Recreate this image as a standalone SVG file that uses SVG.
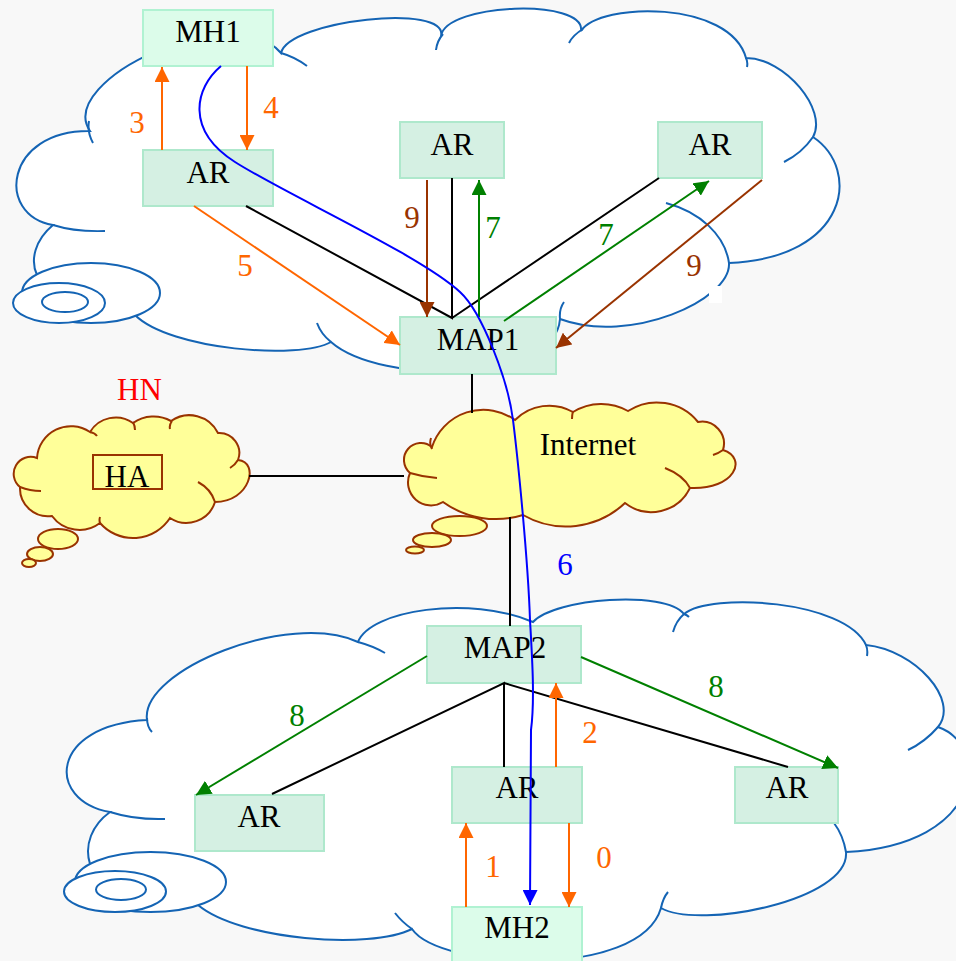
<svg xmlns="http://www.w3.org/2000/svg" width="956" height="961" viewBox="0 0 956 961">
<style>
.cloud{fill:#fff;stroke:#1464b4;stroke-width:2}
.tail{fill:none;stroke:#1464b4;stroke-width:2}
.ycloud{fill:#ffff99;stroke:#993300;stroke-width:2}
.ytail{fill:none;stroke:#993300;stroke-width:2}
.ar rect{fill:#d5f0e3;stroke:#aee8cc;stroke-width:2}
.mh rect{fill:#dcfcea;stroke:#b0f2d2;stroke-width:2}
text{font-family:"Liberation Serif","Times New Roman",serif;font-size:31px;text-anchor:middle;fill:#000}
.ln{fill:none;stroke-width:2}
.k{stroke:#000}.o{stroke:#ff6600}.b{stroke:#993300}.g{stroke:#008000}.u{stroke:#0000ff}
.to{fill:#ff6600}.tb{fill:#993300}.tg{fill:#008000}.tu{fill:#0000ff}
</style>
<defs>
<marker id="ao" markerUnits="userSpaceOnUse" markerWidth="15" markerHeight="15" viewBox="0 0 15 15" refX="15" refY="7.5" orient="auto"><path d="M0,0 L15,7.5 L0,15 z" fill="#ff6600"/></marker>
<marker id="ab" markerUnits="userSpaceOnUse" markerWidth="15" markerHeight="15" viewBox="0 0 15 15" refX="15" refY="7.5" orient="auto"><path d="M0,0 L15,7.5 L0,15 z" fill="#993300"/></marker>
<marker id="ag" markerUnits="userSpaceOnUse" markerWidth="15" markerHeight="15" viewBox="0 0 15 15" refX="15" refY="7.5" orient="auto"><path d="M0,0 L15,7.5 L0,15 z" fill="#008000"/></marker>
<marker id="au" markerUnits="userSpaceOnUse" markerWidth="15" markerHeight="15" viewBox="0 0 15 15" refX="15" refY="7.5" orient="auto"><path d="M0,0 L15,7.5 L0,15 z" fill="#0000ff"/></marker>
</defs>
<rect width="956" height="961" fill="#f8f8f8"/>

<g id="cloud-top">
<path class="cloud" d="M90,131 C55,80 234,-3 281,53 C289,20 449,3 441,36 C446,3 586,-2 581,31 C600,2 730,0 746,58 C785,58 828,110 813,137 C862,170 848,258 729,263 C731,300 630,345 560,319 C555,385 380,385 331,342 C300,360 170,350 135,315 L37,275 C30,260 35,240 53,225 C-5,215 5,130 90,131 Z"/>
<path class="tail" d="M93,143 Q87,132 89,121 M281,53 Q295,57 307,66 M436,50 Q437,41 443,34 M569,43 Q573,35 583,29 M746,58 Q748,62 747,67 M813,137 Q802,153 784,162 M666,203 C700,212 725,235 729,263 M560,319 Q559,309 564,302 M331,342 Q321,334 317,323 M53,225 Q75,232 105,231"/>
<ellipse class="cloud" cx="91" cy="293" rx="69" ry="30"/>
<ellipse class="cloud" cx="59" cy="303" rx="46" ry="20"/>
<ellipse class="cloud" cx="65" cy="302" rx="23" ry="10"/>
<rect x="709" y="286" width="13" height="17" fill="#fff"/>
</g>

<g id="cloud-bottom">
<path class="cloud" d="M147,720 C140,670 290,610 358,642 C370,610 470,595 533,622 C555,598 665,590 684,614 C710,592 845,600 866,645 C915,650 960,700 938,727 C990,745 985,845 846,852 C850,900 700,930 661,908 C640,980 440,970 412,929 C370,950 240,940 198,905 L90,864 C84,845 92,825 110,812 C45,800 50,725 147,720 Z"/>
<path class="tail" d="M358,642 Q373,646 385,653 M152,732 Q147,727 147,718 M684,614 Q687,615 689,617 M673,632 Q676,621 684,614 M866,645 Q868,650 867,656 M938,727 Q925,742 908,750 M846,852 Q843,835 834,823 M661,908 Q663,898 668,892 M412,929 Q402,922 395,913 M110,812 Q135,820 165,819"/>
<ellipse class="cloud" cx="150.5" cy="882" rx="75.5" ry="30"/>
<ellipse class="cloud" cx="115" cy="891.5" rx="51" ry="20.5"/>
<ellipse class="cloud" cx="121" cy="889.5" rx="25" ry="10.5"/>
</g>

<g id="HN">
<path class="ycloud" d="M20,487 A17,17 0 0 1 37,458 A34,34 0 0 1 90,432 A30,30 0 0 1 133,423 A36,36 0 0 1 171,421 A32,32 0 0 1 218,433 A20,20 0 0 1 238,460 C260,462 250,502 215,502 A30,30 0 0 1 170,518 A44,44 0 0 1 100,523 A34,34 0 0 1 52,516 A28,28 0 0 1 20,487 Z"/>
<path class="ytail" d="M20,487 Q30,491 41,491 M90,432 Q95,433 97,436 M133,422 Q135,426 135,430 M172,421 Q169,425 170,429 M238,460 Q235,465 230,468 M198,482 Q211,489 215,502 M100,523 Q99,520 100,517"/>
<ellipse class="ycloud" cx="58" cy="539" rx="20" ry="10"/>
<ellipse class="ycloud" cx="40" cy="554" rx="13" ry="7"/>
<ellipse class="ycloud" cx="29" cy="563" rx="7" ry="4"/>
<text x="139.5" y="400" style="fill:#ff0000">HN</text>
</g>

<g id="HA">
<rect x="93" y="455" width="69" height="34" fill="none" stroke="#993300" stroke-width="2"/>
<text x="127" y="487">HA</text>
</g>

<g id="Internet">
<path class="ycloud" d="M410,473 A17,17 0 0 1 432,447 A54,54 0 0 1 515,420 A48,48 0 0 1 573,412 A54,54 0 0 1 628,411 A53,53 0 0 1 698,422 A22,22 0 0 1 723,450 C748,458 735,490 690,488 A43,43 0 0 1 625,503 A86,86 0 0 1 523,515 A91,91 0 0 1 443,502 A23,23 0 0 1 410,473 Z"/>
<path class="ytail" d="M437,478 Q423,477 410,473 M432,449 Q429,444 431,438 M573,411 Q572,415 572,419 M723,450 Q719,453 713,455 M665,468 Q683,475 690,488"/>
<ellipse class="ycloud" cx="459.5" cy="526" rx="27.5" ry="10"/>
<ellipse class="ycloud" cx="432" cy="540" rx="19" ry="7"/>
<ellipse class="ycloud" cx="415" cy="550" rx="9" ry="3.5"/>
<text x="588" y="455">Internet</text>
</g>

<g id="MH1" class="mh"><rect x="143" y="10" width="130" height="56"/><text x="208" y="42">MH1</text></g>
<g id="AR-top-left" class="ar"><rect x="143" y="150" width="130" height="56"/><text x="208" y="183">AR</text></g>
<g id="AR-top-mid" class="ar"><rect x="400" y="122" width="104" height="56"/><text x="452" y="155">AR</text></g>
<g id="AR-top-right" class="ar"><rect x="658" y="122" width="104" height="56"/><text x="710" y="155">AR</text></g>
<g id="MAP1" class="ar"><rect x="400" y="317" width="156" height="57"/><text x="478" y="350">MAP1</text></g>
<g id="MAP2" class="ar"><rect x="427" y="626" width="154" height="57"/><text x="505" y="658">MAP2</text></g>
<g id="AR-bottom-left" class="ar"><rect x="195" y="795" width="129" height="56"/><text x="259" y="827">AR</text></g>
<g id="AR-bottom-mid" class="ar"><rect x="452" y="767" width="130" height="56"/><text x="517" y="798">AR</text></g>
<g id="AR-bottom-right" class="ar"><rect x="735" y="767" width="103" height="56"/><text x="787" y="798">AR</text></g>
<g id="MH2" class="mh"><rect x="452" y="907" width="130" height="56"/><text x="517" y="938">MH2</text></g>

<g id="connectors">
<path class="ln k" d="M246,206 L452,318 L452,178 M452,318 L659,178"/>
<path class="ln k" d="M472,374 L472,413 M249,476 L404,476 M510,517 L510,626"/>
<path class="ln k" d="M272,794 L504,683 L504,767 M504,683 L788,767"/>
<path class="ln o" d="M162,150 L162,67" marker-end="url(#ao)"/>
<path class="ln o" d="M247,66 L247,150" marker-end="url(#ao)"/>
<path class="ln o" d="M194,206 L400,345" marker-end="url(#ao)"/>
<path class="ln b" d="M427,180 L427,317" marker-end="url(#ab)"/>
<path class="ln g" d="M479,317 L479,180" marker-end="url(#ag)"/>
<path class="ln g" d="M504,321 L709,181" marker-end="url(#ag)"/>
<path class="ln b" d="M762,180 L556,348" marker-end="url(#ab)"/>
<path class="ln g" d="M427,656 L196,795" marker-end="url(#ag)"/>
<path class="ln g" d="M581,657 L838,768" marker-end="url(#ag)"/>
<path class="ln o" d="M556,767 L556,683" marker-end="url(#ao)"/>
<path class="ln o" d="M466,907 L466,823" marker-end="url(#ao)"/>
<path class="ln o" d="M569,823 L569,907" marker-end="url(#ao)"/>
<path class="ln u" d="M221,66 C195,88 185,130 235,162 C285,194 420,255 460,292 C482,312 508,380 513,420 C518,460 528,560 530,620 C532,655 535,700 531,730 L530,905" marker-end="url(#au)"/>
</g>

<g id="labels">
<text class="to" x="137" y="133">3</text>
<text class="to" x="271" y="118">4</text>
<text class="to" x="245" y="276">5</text>
<text class="tb" x="412" y="228">9</text>
<text class="tg" x="493" y="238">7</text>
<text class="tg" x="606" y="245">7</text>
<text class="tb" x="694" y="276">9</text>
<text class="tu" x="565" y="575">6</text>
<text class="tg" x="297" y="726">8</text>
<text class="tg" x="716" y="697">8</text>
<text class="to" x="590" y="743">2</text>
<text class="to" x="493" y="877">1</text>
<text class="to" x="604" y="868">0</text>
</g>
</svg>
